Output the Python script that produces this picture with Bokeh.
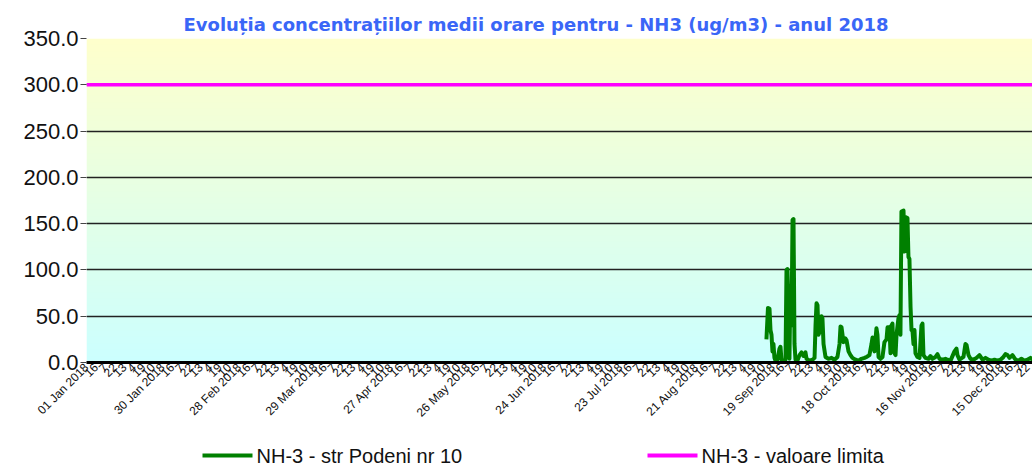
import numpy as np
from bokeh.plotting import figure
from bokeh.layouts import column
from bokeh.models import FixedTicker, NumeralTickFormatter, Range1d, Title
from bokeh.core.properties import value
from bokeh.embed import file_html
from bokeh.resources import INLINE
from math import pi

# ---------------- data ----------------
TITLE = "Evoluția concentrațiilor medii orare pentru - NH3 (ug/m3) - anul 2018"
SERIES_NAME = "NH-3 - str Podeni nr 10"
LIMIT_NAME = "NH-3 - valoare limita"
LIMIT_VALUE = 300.0

# hour of year (0 = 01 Jan 2018 01:00) and hourly NH3 concentration (ug/m3)
HOURS = [6205, 6219, 6233, 6242, 6251, 6260, 6269, 6278, 6288, 6306, 6324, 6333,
         6342, 6361, 6379, 6388, 6397, 6406, 6415, 6424, 6434, 6443, 6452, 6461,
         6470, 6488, 6507, 6525, 6543, 6561, 6571, 6598, 6625, 6644, 6653, 6662,
         6671, 6680, 6698, 6707, 6716, 6726, 6744, 6771, 6799, 6826, 6853, 6872,
         6881, 6890, 6908, 6926, 6936, 6954, 6972, 6990, 7018, 7045, 7072, 7100,
         7118, 7145, 7164, 7173, 7191, 7209, 7218, 7228, 7246, 7264, 7282, 7301,
         7310, 7328, 7337, 7346, 7355, 7364, 7383, 7392, 7410, 7419, 7428, 7437,
         7456, 7465, 7474, 7492, 7501, 7510, 7520, 7529, 7538, 7547, 7556, 7565,
         7583, 7602, 7620, 7629, 7638, 7656, 7684, 7702, 7720, 7748, 7766, 7784,
         7812, 7839, 7857, 7885, 7921, 7939, 7948, 7967, 8003, 8021, 8031, 8049,
         8067, 8094, 8122, 8149, 8177, 8204, 8231, 8259, 8286, 8313, 8341, 8368,
         8386, 8405, 8423, 8450, 8478, 8505, 8532, 8560, 8587, 8615, 8633, 8660,
         8700, 8759]
VALUES = [25, 59, 58, 35, 30, 12, 20, 5, 2, 3, 15, 17,
          3, 2, 3, 100, 101, 60, 4, 83, 40, 154, 155, 20,
          3, 2, 8, 11, 7, 11, 4, 2, 3, 5, 40, 64,
          62, 30, 35, 50, 48, 20, 6, 4, 5, 3, 6, 20,
          39, 38, 22, 26, 24, 12, 8, 5, 3, 2, 4, 5,
          6, 8, 20, 27, 12, 37, 30, 6, 4, 6, 22, 25,
          38, 38, 10, 40, 42, 12, 8, 30, 48, 51, 30, 163,
          164, 120, 157, 156, 114, 112, 60, 35, 34, 20, 35, 10,
          6, 5, 40, 42, 8, 5, 4, 7, 4, 6, 9, 4,
          3, 4, 3, 2, 12, 15, 8, 3, 6, 20, 19, 8,
          4, 3, 5, 8, 3, 5, 3, 2, 3, 2, 3, 6,
          9, 8, 5, 8, 3, 2, 4, 2, 3, 5, 3, 4,
          3, 2]

Y_TICKS = [0, 50, 100, 150, 200, 250, 300, 350]
TICK_STEP_HOURS = 87
DATE_LABELS = ["01 Jan 2018", "30 Jan 2018", "28 Feb 2018", "29 Mar 2018",
               "27 Apr 2018", "26 May 2018", "24 Jun 2018", "23 Jul 2018",
               "21 Aug 2018", "19 Sep 2018", "18 Oct 2018", "16 Nov 2018",
               "15 Dec 2018"]
HOUR_LABELS = ["16", "7", "22", "13", "4", "19", "10"]

X_END = 8633
Y_MAX = 350

GREEN = "#008000"
MAGENTA = "#ff00ff"

# ---------------- main figure ----------------
p = figure(width=1032, height=430, output_backend="svg", toolbar_location=None,
           x_range=Range1d(0, X_END), y_range=Range1d(0, Y_MAX),
           min_border_left=86, min_border_right=0, min_border_top=38,
           min_border_bottom=68)
p.background_fill_color = "white"
p.border_fill_color = "white"
p.outline_line_color = None

# gradient background of the plot area (yellow top -> cyan bottom)
n = 350
t = np.linspace(0, 1, n)[:, None]  # 0 bottom, 1 top
top = np.array([255, 255, 204])
bot = np.array([204, 255, 255])
cols = (bot + (top - bot) * t).astype(np.uint32)
img = np.empty((n, 1), dtype=np.uint32)
view = img.view(dtype=np.uint8).reshape((n, 1, 4))
view[:, :, 0] = cols[:, 0:1]
view[:, :, 1] = cols[:, 1:2]
view[:, :, 2] = cols[:, 2:3]
view[:, :, 3] = 255
p.image_rgba(image=[img], x=0, y=0, dw=X_END, dh=Y_MAX, level="image")

# title
p.title = Title(text=TITLE, align="left", text_color="#3a66f7",
                text_font="DejaVu Sans", text_font_style="bold",
                text_font_size="18px", offset=97, standoff=8)

# grid
p.xgrid.visible = False
p.ygrid.ticker = FixedTicker(ticks=Y_TICKS)
p.ygrid.grid_line_color = "#222222"
p.ygrid.grid_line_width = 1.5

# y axis
p.yaxis.ticker = FixedTicker(ticks=Y_TICKS)
p.yaxis.formatter = NumeralTickFormatter(format="0.0")
p.yaxis.major_label_text_font = "Liberation Sans"
p.yaxis.major_label_text_font_size = "22px"
p.yaxis.major_label_text_color = "#111111"
p.yaxis.major_tick_out = 6
p.yaxis.major_tick_in = 0
p.yaxis.minor_tick_out = 0
p.yaxis.minor_tick_in = 0
p.yaxis.major_tick_line_color = "#444444"
p.yaxis.axis_line_color = None
p.yaxis.major_label_standoff = 2

# x axis
n_ticks = X_END // TICK_STEP_HOURS + 1
x_ticks = [k * TICK_STEP_HOURS for k in range(n_ticks)]
overrides = {}
for k, tx in enumerate(x_ticks):
    if k % 8 == 0:
        overrides[tx] = DATE_LABELS[k // 8]
    else:
        overrides[tx] = HOUR_LABELS[k % 8 - 1]
p.xaxis.ticker = FixedTicker(ticks=x_ticks)
p.xaxis.major_label_overrides = overrides
p.xaxis.major_label_orientation = pi / 4
p.xaxis.major_label_text_font = "Liberation Sans"
p.xaxis.major_label_text_font_size = "12px"
p.xaxis.major_label_text_color = "#111111"
p.xaxis.major_tick_out = 0
p.xaxis.major_tick_in = 0
p.xaxis.minor_tick_out = 0
p.xaxis.minor_tick_in = 0
p.xaxis.axis_line_color = "black"
p.xaxis.axis_line_width = 3
p.xaxis.major_label_standoff = 3

# series
p.line(HOURS, VALUES, line_color=GREEN, line_width=4, line_join="round")
p.line([0, X_END], [LIMIT_VALUE, LIMIT_VALUE], line_color=MAGENTA,
       line_width=3.5)

# ---------------- legend strip (page-pixel coordinates) ----------------
# the column aligns this strip's frame with the main frame (x 86..1032)
lg = figure(width=1032, height=35, output_backend="svg", toolbar_location=None,
            x_axis_type=None, y_axis_type=None, min_border=0,
            x_range=Range1d(86, 1032), y_range=Range1d(0, 35))
lg.outline_line_color = None
lg.grid.visible = False
LEG_NAMES = [SERIES_NAME, LIMIT_NAME]
LEG_COLORS = [GREEN, MAGENTA]
LEG_X0 = [202, 647]
LEG_Y = 10
for name, col, x0 in zip(LEG_NAMES, LEG_COLORS, LEG_X0):
    lg.line([x0, x0 + 50], [LEG_Y, LEG_Y], line_color=col, line_width=4)
    lg.text([x0 + 54], [LEG_Y], text=[name], text_baseline="middle",
            text_align="left", text_font=value("Liberation Sans"),
            text_font_size="20px", text_color="#111111")

layout = column(p, lg, spacing=0)
open("out.html", "w").write(file_html(layout, INLINE))
